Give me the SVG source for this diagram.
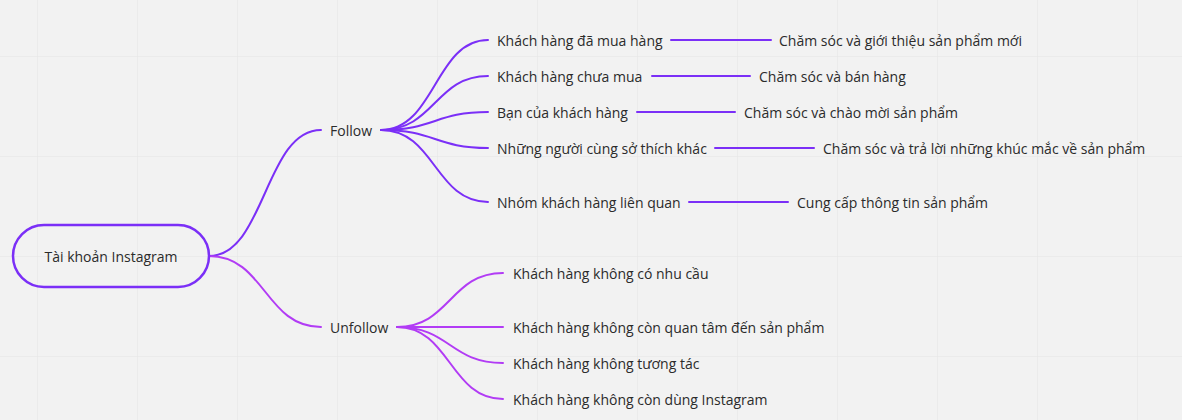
<svg xmlns="http://www.w3.org/2000/svg" width="1182" height="420" viewBox="0 0 1182 420">
<defs>
<pattern id="grid" x="37" y="56" width="100" height="100" patternUnits="userSpaceOnUse">
<path d="M0,0 V100 M0,0 H100" fill="none" stroke="#e4e4e4" stroke-width="1"/>
</pattern>
</defs>
<style>
text{font-family:"Open Sans","Noto Sans","DejaVu Sans",sans-serif;font-size:14px;fill:#2b2b2b;dominant-baseline:central}
.f{fill:none;stroke:#7b2ff7;stroke-width:2;stroke-linecap:round}
.u{fill:none;stroke:#b23cf5;stroke-width:2;stroke-linecap:round}
</style>
<rect width="1182" height="420" fill="#f2f2f2"/>
<rect width="1182" height="420" fill="url(#grid)"/>
<g id="connectors">
<path class="f" d="M209,256 C265,256 265,130 321,130"/>
<path class="u" d="M209,256 C265,256 265,327 321,327"/>
<path class="f" d="M381,130 C435,130 435,40 488,40"/>
<path class="f" d="M381,130 C435,130 435,76 488,76"/>
<path class="f" d="M381,130 C435,130 435,112 488,112"/>
<path class="f" d="M381,130 C435,130 435,148 488,148"/>
<path class="f" d="M381,130 C435,130 435,202 488,202"/>
<path class="f" d="M671,40 H771"/>
<path class="f" d="M652,76 H750"/>
<path class="f" d="M637,112 H735"/>
<path class="f" d="M715,148 H814"/>
<path class="f" d="M689,202 H788"/>
<path class="u" d="M397,327 C450,327 450,273 503,273"/>
<path class="u" d="M397,327 C450,327 450,327 503,327"/>
<path class="u" d="M397,327 C450,327 450,363 503,363"/>
<path class="u" d="M397,327 C450,327 450,399 503,399"/>
</g>
<g id="root">
<rect x="13" y="225" width="196" height="62" rx="31" fill="none" stroke="#7b2ff7" stroke-width="2.5"/>
<text x="111" y="256" text-anchor="middle">Tài khoản Instagram</text>
</g>
<g id="follow"><text x="330" y="130">Follow</text></g>
<g id="unfollow"><text x="330" y="327">Unfollow</text></g>
<g id="f1"><text x="497" y="40">Khách hàng đã mua hàng</text></g>
<g id="f2"><text x="497" y="76">Khách hàng chưa mua</text></g>
<g id="f3"><text x="497" y="112">Bạn của khách hàng</text></g>
<g id="f4"><text x="497" y="148">Những người cùng sở thích khác</text></g>
<g id="f5"><text x="497" y="202">Nhóm khách hàng liên quan</text></g>
<g id="f1a"><text x="779" y="40">Chăm sóc và giới thiệu sản phẩm mới</text></g>
<g id="f2a"><text x="759" y="76">Chăm sóc và bán hàng</text></g>
<g id="f3a"><text x="744" y="112">Chăm sóc và chào mời sản phẩm</text></g>
<g id="f4a"><text x="823" y="148">Chăm sóc và trả lời những khúc mắc về sản phẩm</text></g>
<g id="f5a"><text x="797" y="202">Cung cấp thông tin sản phẩm</text></g>
<g id="u1"><text x="513" y="273">Khách hàng không có nhu cầu</text></g>
<g id="u2"><text x="513" y="327">Khách hàng không còn quan tâm đến sản phẩm</text></g>
<g id="u3"><text x="513" y="363">Khách hàng không tương tác</text></g>
<g id="u4"><text x="513" y="399">Khách hàng không còn dùng Instagram</text></g>
</svg>
